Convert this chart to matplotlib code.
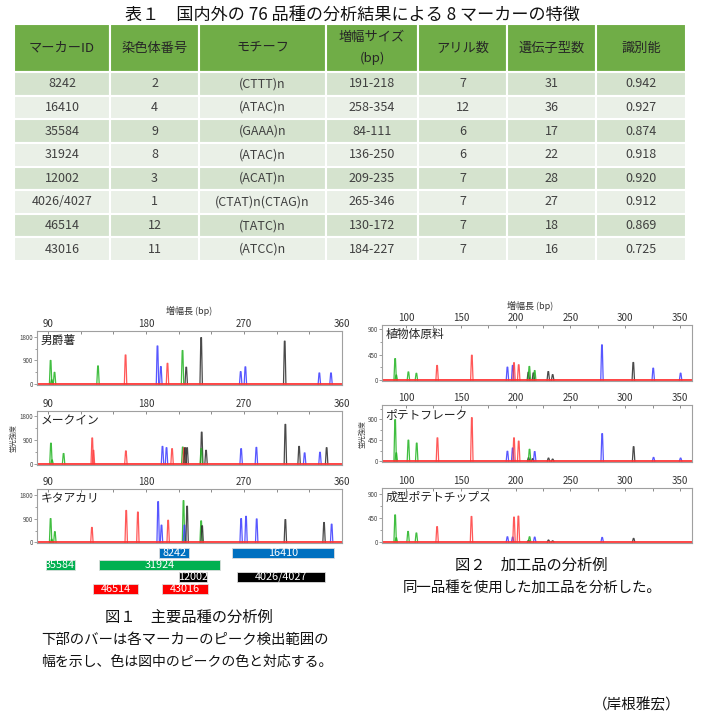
import matplotlib
matplotlib.use("Agg")
import matplotlib.pyplot as plt
from matplotlib.patches import Rectangle
from matplotlib.ticker import MultipleLocator

plt.rcParams['font.family'] = ['Noto Sans CJK JP', 'DejaVu Sans']

# ---------------- data ----------------
table_title = "表１　国内外の 76 品種の分析結果による 8 マーカーの特徴"
col_headers = ["マーカーID", "染色体番号", "モチーフ", "増幅サイズ\n(bp)", "アリル数", "遺伝子型数", "識別能"]
marker_ids = ["8242", "16410", "35584", "31924", "12002", "4026/4027", "46514", "43016"]
chromosomes = ["2", "4", "9", "8", "3", "1", "12", "11"]
motifs = ["(CTTT)n", "(ATAC)n", "(GAAA)n", "(ATAC)n", "(ACAT)n", "(CTAT)n(CTAG)n", "(TATC)n", "(ATCC)n"]
size_ranges = ["191-218", "258-354", "84-111", "136-250", "209-235", "265-346", "130-172", "184-227"]
alleles = ["7", "12", "6", "6", "7", "7", "7", "7"]
genotypes = ["31", "36", "17", "22", "28", "27", "18", "16"]
discrimination = ["0.942", "0.927", "0.874", "0.918", "0.920", "0.912", "0.869", "0.725"]

# Fig.1 panels (position bp, height, dye)
p1_name = "男爵薯"
p1_pos = [92.5, 93.5, 96.1, 136, 161.3, 190.6, 193.7, 199.8, 213.6, 217, 230.7, 267, 271.3, 307.4, 339.2, 349.9]
p1_h = [900, 160, 444, 690, 1110, 1455, 666, 790, 1280, 640, 1775, 470, 655, 1640, 420, 420]
p1_dye = list("gggg" "rbbr" "gkkb" "bkbb")

p2_name = "メークイン"
p2_pos = [92.8, 93.8, 104.4, 130.7, 131.8, 161.6, 195.2, 198.9, 204, 213.8, 215, 216, 217.8,
          231.2, 230.8, 235.2, 267.4, 281.4, 308, 320.6, 325.7, 339.8, 345.9]
p2_h = [783, 150, 392, 980, 514, 490, 661, 612, 575, 636, 612, 612, 612,
        1200, 575, 514, 575, 624, 1493, 661, 416, 440, 612]
p2_dye = list("gggrrrbbrgrkk" "kgkbbkkbbk")

p3_name = "キタアカリ"
p3_pos = [92.5, 93.5, 96.4, 130.4, 161.9, 172.6, 191.2, 194.3, 200.4, 214.5, 215.4, 217.8,
          230.7, 231.6, 267.4, 271.9, 281.7, 308, 343.5, 350.5]
p3_h = [900, 120, 407, 567, 1208, 1147, 1541, 653, 838, 1578, 653, 1369,
        814, 629, 900, 986, 888, 863, 752, 690]
p3_dye = list("gggrrrbbrgbk" "gkbbbkkb")

# Fig.1 marker detection ranges (as drawn)
bar_labels = ["8242", "16410", "35584", "31924", "12002", "4026/4027", "46514", "43016"]
bar_start = [191.6, 259.4, 88, 137, 210.8, 264, 131, 195]
bar_end = [220, 353, 114.5, 248, 236, 344, 173, 237]
bar_row = [0, 0, 1, 1, 2, 2, 3, 3]
bar_dye = ["b", "b", "g", "g", "k", "k", "r", "r"]

# Fig.2 panels
q1_name = "植物体原料"
q1_pos = [90, 91, 102.1, 109.4, 128.3, 160, 192.5, 197.3, 198.5, 202.8, 211.6, 212.5, 216.2, 217.4,
          229.8, 233.8, 278.8, 307.4, 325.6, 350.6]
q1_h = [378, 90, 144, 120, 258, 438, 228, 258, 306, 270, 138, 240, 126, 168, 150, 96, 620, 310, 210, 122]
q1_dye = list("ggggrrbbrrkgkg" "kkbkbb")

q2_name = "ポテトフレーク"
q2_pos = [90, 91, 102.1, 109.7, 128.6, 160, 192.5, 197.3, 198.5, 202.8, 211.8, 212.7, 215.6, 217.4,
          230, 233.8, 279, 307.7, 325.9, 350.6]
q2_h = [886, 175, 447, 384, 496, 928, 209, 279, 496, 426, 70, 251, 50, 202, 63, 42, 586, 307, 77, 63]
q2_dye = list("ggggrrbbrrkgkb" "kkbkbb")

q3_name = "成型ポテトチップス"
q3_pos = [90, 91, 101.8, 109.4, 128.3, 159.7, 192.5, 197.3, 198.5, 202.5, 211.8, 212.7, 217.4,
          230, 233.8, 279, 307.7]
q3_h = [503, 77, 195, 166, 284, 474, 95, 89, 462, 480, 30, 95, 89, 35, 20, 83, 65]
q3_dye = list("ggggrrbbrrkgb" "kkbk")

left_xticks = [90, 180, 270, 360]
right_xticks = [100, 150, 200, 250, 300, 350]
left_yticks = [0, 900, 1800]
right_yticks = [0, 450, 900]

# ---------------- styling ----------------
W, H = 705, 720
fig = plt.figure(figsize=(W / 100, H / 100), dpi=100)
fig.patch.set_facecolor("white")

peak_colors = {"g": "#1fb31f", "r": "#ff3b3b", "b": "#3a3aff", "k": "#2a2a2a"}
bar_colors = {"b": "#0070C0", "g": "#00B050", "k": "#000000", "r": "#FF0000"}


def add_ax(x0, y0, x1, y1):
    return fig.add_axes([x0 / W, 1 - y1 / H, (x1 - x0) / W, (y1 - y0) / H])


def ftext(x, y, s, **kw):
    fig.text(x / W, 1 - y / H, s, **kw)


# ---------------- table ----------------
ftext(352, 15, table_title, ha="center", va="center", fontsize=12.3, color="#111")
tax = add_ax(14, 24, 686, 261)
tax.set_xlim(14, 686)
tax.set_ylim(261, 24)
tax.axis("off")
col_edges = [14, 110, 199, 326, 418, 507, 596, 686]
header_top, header_bot = 24, 72
row_h = (261 - 72) / 8
columns = [marker_ids, chromosomes, motifs, size_ranges, alleles, genotypes, discrimination]
for j in range(7):
    x0, x1 = col_edges[j], col_edges[j + 1]
    tax.add_patch(Rectangle((x0, header_top), x1 - x0, header_bot - header_top,
                            facecolor="#70AD47", edgecolor="white", lw=1.5))
    tax.text((x0 + x1) / 2, (header_top + header_bot) / 2, col_headers[j], ha="center", va="center",
             fontsize=9.5, color="#262626", linespacing=1.7)
    for i in range(8):
        y0 = header_bot + i * row_h
        fc = "#D5E3CE" if i % 2 == 0 else "#EAF0E7"
        tax.add_patch(Rectangle((x0, y0), x1 - x0, row_h, facecolor=fc, edgecolor="white", lw=1.5))
        tax.text((x0 + x1) / 2, y0 + row_h / 2, columns[j][i], ha="center", va="center",
                 fontsize=9, color="#404040")


# ---------------- electropherograms ----------------
def draw_panel(box, name, pos, h, dye, xlim, ylim, xticks, xminor, yticks, yminor):
    ax = add_ax(*box)
    for p, v, d in zip(pos, h, dye):
        ax.plot([p - 1.1, p - 0.3, p + 0.3, p + 1.1], [0, v, v, 0], color=peak_colors[d], lw=0.9,
                alpha=0.85, solid_joinstyle="round")
    ax.axhline(ylim[0] + (ylim[1] - ylim[0]) * 0.012, color="#ff3030", lw=1.4, alpha=0.9)
    ax.set_xlim(*xlim)
    ax.set_ylim(*ylim)
    ax.set_xticks(xticks)
    ax.xaxis.set_minor_locator(MultipleLocator(xminor))
    ax.set_yticks(yticks)
    ax.yaxis.set_minor_locator(MultipleLocator(yminor))
    ax.xaxis.tick_top()
    ax.tick_params(axis="x", which="major", direction="in", labelsize=7, colors="#777", labelcolor="#333",
                   length=2.5, width=0.6, pad=1.5)
    ax.tick_params(axis="x", which="minor", direction="in", length=2, width=0.6, colors="#777")
    ax.tick_params(axis="y", which="major", labelsize=4.5, colors="#777", labelcolor="#444", length=2,
                   width=0.5, pad=1)
    ax.tick_params(axis="y", which="minor", length=1.5, width=0.5, colors="#777")
    for s in ax.spines.values():
        s.set_color("#a0a0a0")
        s.set_linewidth(0.8)
    ax.text(0.012, 0.94, name, transform=ax.transAxes, ha="left", va="top", fontsize=8.5, color="#222")
    return ax


left_xlim = (80, 360)
right_xlim = (78, 361)
draw_panel((37, 331, 342, 385), p1_name, p1_pos, p1_h, p1_dye, left_xlim, (-40, 2030),
           left_xticks, 30, left_yticks, 450)
a2 = draw_panel((37, 411, 342, 465), p2_name, p2_pos, p2_h, p2_dye, left_xlim, (-40, 2000),
                left_xticks, 30, left_yticks, 450)
draw_panel((37, 489, 342, 543), p3_name, p3_pos, p3_h, p3_dye, left_xlim, (-20, 2020),
           left_xticks, 30, left_yticks, 450)
ftext(189, 311, "増幅長 (bp)", ha="center", va="center", fontsize=6.5, color="#333")
a2.set_ylabel("蛍光強度", fontsize=5, color="#444", labelpad=1)

draw_panel((382, 325, 692, 381), q1_name, q1_pos, q1_h, q1_dye, right_xlim, (-15, 970),
           right_xticks, 25, right_yticks, 225)
b2 = draw_panel((382, 405, 692, 462), q2_name, q2_pos, q2_h, q2_dye, right_xlim, (-20, 1200),
                right_xticks, 25, right_yticks, 225)
draw_panel((382, 488, 692, 543), q3_name, q3_pos, q3_h, q3_dye, right_xlim, (-20, 1005),
           right_xticks, 25, right_yticks, 225)
ftext(530, 306, "増幅長 (bp)", ha="center", va="center", fontsize=6.5, color="#333")
b2.set_ylabel("蛍光強度", fontsize=5, color="#444", labelpad=1)

# ---------------- marker range bars ----------------
bax = add_ax(37, 547, 342, 595)
bax.set_xlim(*left_xlim)
bax.set_ylim(3.5, -0.5)
bax.axis("off")
for lab, s, e, r, d in zip(bar_labels, bar_start, bar_end, bar_row, bar_dye):
    bax.barh(r, e - s, left=s, height=0.86, color=bar_colors[d], edgecolor="#dddddd", lw=0.6)
    bax.text((s + e) / 2, r, lab, ha="center", va="center", fontsize=7.8, color="white")

# ---------------- captions ----------------
ftext(189, 617, "図１　主要品種の分析例", ha="center", va="center", fontsize=11, color="#111")
ftext(41, 640, "下部のバーは各マーカーのピーク検出範囲の", ha="left", va="center", fontsize=10.4, color="#111")
ftext(41, 662, "幅を示し、色は図中のピークの色と対応する。", ha="left", va="center", fontsize=10, color="#111")
ftext(531, 565, "図２　加工品の分析例", ha="center", va="center", fontsize=11, color="#111")
ftext(532, 588, "同一品種を使用した加工品を分析した。", ha="center", va="center", fontsize=10.4, color="#111")
ftext(681, 705, "（岸根雅宏）", ha="right", va="center", fontsize=10.5, color="#111")

fig.savefig("out.png", dpi=100, facecolor="white")
